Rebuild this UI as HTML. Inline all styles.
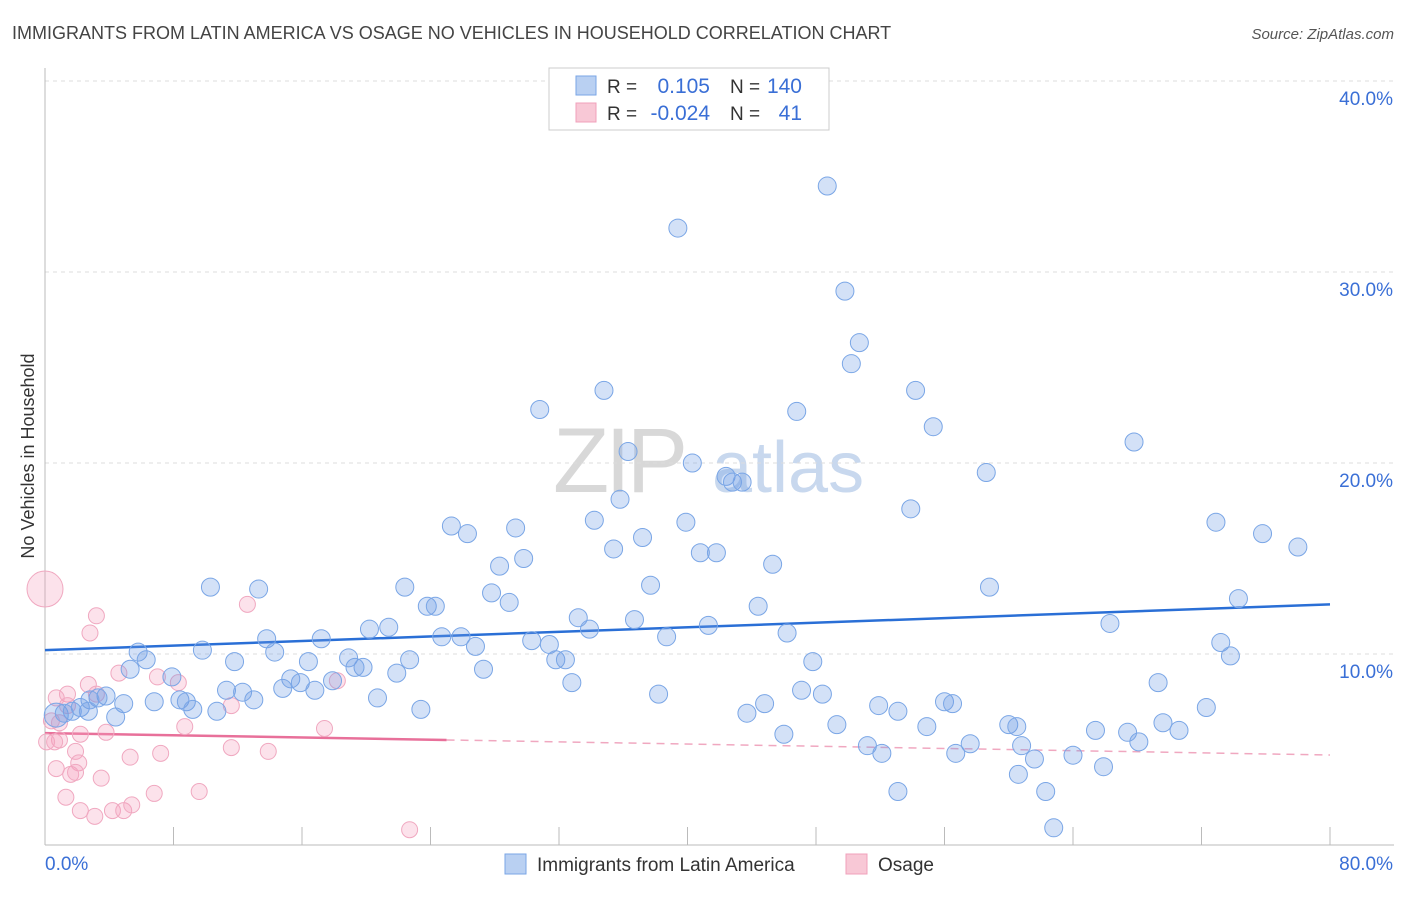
<!DOCTYPE html>
<html><head><meta charset="utf-8">
<style>
body{margin:0;background:#fff;font-family:"Liberation Sans",sans-serif;}
svg text{font-family:"Liberation Sans",sans-serif;}
</style></head>
<body>
<svg id="chart" width="1406" height="892" xmlns="http://www.w3.org/2000/svg">
<text x="12" y="39" font-size="18" fill="#444">IMMIGRANTS FROM LATIN AMERICA VS OSAGE NO VEHICLES IN HOUSEHOLD CORRELATION CHART</text>
<text x="1394" y="39" font-size="15" fill="#555" text-anchor="end" font-style="italic">Source: ZipAtlas.com</text>
<text transform="translate(34,456) rotate(-90)" font-size="18" fill="#333" text-anchor="middle">No Vehicles in Household</text>
<g>
<text x="553" y="492" font-size="92" fill="#d8d8d8" font-family="Liberation Serif" letter-spacing="-4">ZIP</text>
<text x="712" y="492" font-size="72" fill="#c8d8ee">atlas</text>
</g>
<g id="grid"></g>
<g id="axes"></g>
<g id="lines"></g>
<g id="points"></g>
<g>
<rect x="549" y="68" width="280" height="62" fill="#fff" stroke="#ccc"/>
<rect x="576" y="76" width="20" height="19" fill="#b9d0f2" stroke="#7aa6e6"/>
<rect x="576" y="103" width="20" height="19" fill="#f8c8d6" stroke="#f0a0bb"/>
<text x="607" y="93" font-size="19" fill="#333">R =</text>
<text x="710" y="93" font-size="21" fill="#3a6fd6" text-anchor="end">0.105</text>
<text x="730" y="93" font-size="19" fill="#333">N =</text>
<text x="802" y="93" font-size="21" fill="#3a6fd6" text-anchor="end">140</text>
<text x="607" y="120" font-size="19" fill="#333">R =</text>
<text x="710" y="120" font-size="21" fill="#3a6fd6" text-anchor="end">-0.024</text>
<text x="730" y="120" font-size="19" fill="#333">N =</text>
<text x="802" y="120" font-size="21" fill="#3a6fd6" text-anchor="end">41</text>
</g>
<g>
<rect x="505" y="854" width="21" height="20" fill="#b9d0f2" stroke="#7aa6e6"/>
<text x="537" y="871" font-size="19" fill="#333">Immigrants from Latin America</text>
<rect x="846" y="854" width="21" height="20" fill="#f8c8d6" stroke="#f0a0bb"/>
<text x="878" y="871" font-size="19" fill="#333">Osage</text>
</g>
</svg>
<script>
const blueX=[48.7,39.4,49.8,50.7,50.2,54.2,34.8,30.8,46.8,55.3,67.8,36.3,40.3,42.4,42.8,43.4,58.6,35.8,53.9,25.3,29.3,34.2,39.9,72.9,26.3,75.8,37.2,35.4,40.8,41.8,78.0,29.8,28.3,45.3,10.3,13.3,22.4,37.7,58.8,27.8,74.3,28.9,23.8,24.3,44.4,33.2,36.7,66.3,21.4,20.2,33.9,41.3,46.2,13.8,17.2,24.7,25.9,30.3,31.4,38.7,26.8,73.2,9.8,14.3,5.8,6.3,73.8,18.9,22.7,31.8,32.4,11.8,16.4,47.8,5.3,19.8,19.3,27.3,21.9,7.9,15.3,15.9,17.9,32.8,69.3,11.3,14.8,12.3,16.8,47.1,38.2,48.4,20.7,3.8,3.3,2.8,4.9,6.8,8.4,8.8,13.0,9.2,10.7,44.8,56.0,56.5,51.9,23.4,53.1,43.7,72.3,4.4,0.7,1.7,2.2,1.2,2.7,49.3,54.9,60.0,60.5,69.6,65.4,67.4,70.6,46.0,57.6,68.1,60.8,51.2,52.1,56.7,61.6,64.0,65.9,60.6,53.1,62.3,62.8];
const blueY=[34.5,32.3,29.0,26.3,25.2,23.8,23.8,22.8,22.7,21.9,21.1,20.6,20.0,19.3,19.0,19.0,19.5,18.1,17.6,16.7,16.6,17.0,16.9,16.9,16.3,16.3,16.1,15.5,15.3,15.3,15.6,15.0,14.6,14.7,13.5,13.4,13.5,13.6,13.5,13.2,12.9,12.7,12.5,12.5,12.5,11.9,11.8,11.6,11.4,11.3,11.3,11.5,11.1,10.8,10.8,10.9,10.9,10.7,10.5,10.9,10.4,10.6,10.2,10.1,10.1,9.7,9.9,9.8,9.7,9.7,9.7,9.6,9.6,9.6,9.2,9.3,9.3,9.2,9.0,8.8,8.7,8.5,8.6,8.5,8.5,8.1,8.2,8.0,8.1,8.1,7.9,7.9,7.7,7.8,7.7,7.6,7.4,7.5,7.6,7.5,7.6,7.1,7.0,7.4,7.5,7.4,7.3,7.1,7.0,6.9,7.2,6.7,6.8,7.0,7.2,6.9,7.0,6.3,6.2,6.3,6.2,6.4,6.0,5.9,6.0,5.8,5.3,5.4,5.2,5.2,4.8,4.8,4.5,4.7,4.1,3.7,2.8,2.8,0.9];
const pinkX=[0,3.2,2.8,12.6,7.0,8.3,2.7,1.4,3.2,4.6,11.6,0.7,0.4,0.9,1.4,2.2,3.8,0.9,0.1,0.6,8.7,17.4,18.2,7.2,5.3,11.6,13.9,1.9,2.1,0.7,1.6,1.9,3.5,6.8,9.6,1.3,2.2,3.1,4.2,4.9,5.4,22.7];
const pinkY=[13.4,12.0,11.1,12.6,8.8,8.5,8.4,7.9,7.9,9.0,7.3,7.7,6.5,6.4,7.3,5.8,5.9,5.5,5.4,5.4,6.2,6.1,8.6,4.8,4.6,5.1,4.9,4.9,4.3,4.0,3.7,3.8,3.5,2.7,2.8,2.5,1.8,1.5,1.8,1.8,2.1,0.8];
const xTicks=[0,8,16,24,32,40,48,56,64,72,80];
const yTicks=[10,20,30,40];
const blueFit=[10.2,12.6];
const pinkFit=[5.86,4.71];
const pinkSolidEnd=25;
const X=v=>45+v*1285/80, Y=v=>845-v*19.1;
const NS="http://www.w3.org/2000/svg";
function mk(tag,parent,attrs){const e=document.createElementNS(NS,tag);for(const k in attrs)e.setAttribute(k,attrs[k]);parent.appendChild(e);return e;}
const grid=document.getElementById('grid'),axes=document.getElementById('axes'),lines=document.getElementById('lines'),pts=document.getElementById('points');
yTicks.forEach(t=>{
 const l=mk('line',grid,{x1:45,x2:1394,y1:Y(t),y2:Y(t),stroke:'#ddd','stroke-dasharray':'4,4'});
 
 
 const tx=mk('text',axes,{x:1393,y:Y(t)+24,'font-size':19,fill:'#3a6fd6','text-anchor':'end'});
 tx.textContent=t.toFixed(1)+'%';
 
 
});
const yax=mk('line',axes,{x1:45,x2:45,y1:68,y2:845,stroke:'#bbb'});


const xax=mk('line',axes,{x1:45,x2:1394,y1:845,y2:845,stroke:'#bbb'});


xTicks.forEach(t=>{
 const l=mk('line',axes,{x1:X(t),x2:X(t),y1:827,y2:845,stroke:'#bbb'});
 
 
});
[[0,'start',45],[80,'end',1393]].forEach(([v,a,px])=>{
 const tx=mk('text',axes,{x:px,y:870,'font-size':19,fill:'#3a6fd6','text-anchor':a});
 tx.textContent=v.toFixed(1)+'%';
 
 
});
pinkX.forEach((x,i)=>{
 const c=mk('circle',pts,{cx:X(x),cy:Y(pinkY[i]),r:i===0?18:8,fill:'rgba(245,160,190,0.3)',stroke:'#f0a8c0','stroke-width':1});
 
 
});
blueX.forEach((x,i)=>{
 const big=blueX[i]<1.0;
 const c=mk('circle',pts,{cx:X(x),cy:Y(blueY[i]),r:big?12:9,fill:'rgba(110,155,230,0.3)',stroke:'#7aa6e6','stroke-width':1});
 
 
});
const bl=mk('line',lines,{x1:X(0),y1:Y(blueFit[0]),x2:X(80),y2:Y(blueFit[1]),stroke:'#2a6fd6','stroke-width':2.5});


const pAt=v=>pinkFit[0]+(pinkFit[1]-pinkFit[0])*v/80;
const pl=mk('line',lines,{x1:X(0),y1:Y(pinkFit[0]),x2:X(pinkSolidEnd),y2:Y(pAt(pinkSolidEnd)),stroke:'#e8709a','stroke-width':2.5});


const pd=mk('line',lines,{x1:X(pinkSolidEnd),y1:Y(pAt(pinkSolidEnd)),x2:X(80),y2:Y(pinkFit[1]),stroke:'#f0a8c0','stroke-width':1.5,'stroke-dasharray':'8,6'});


</script>
</body></html>
